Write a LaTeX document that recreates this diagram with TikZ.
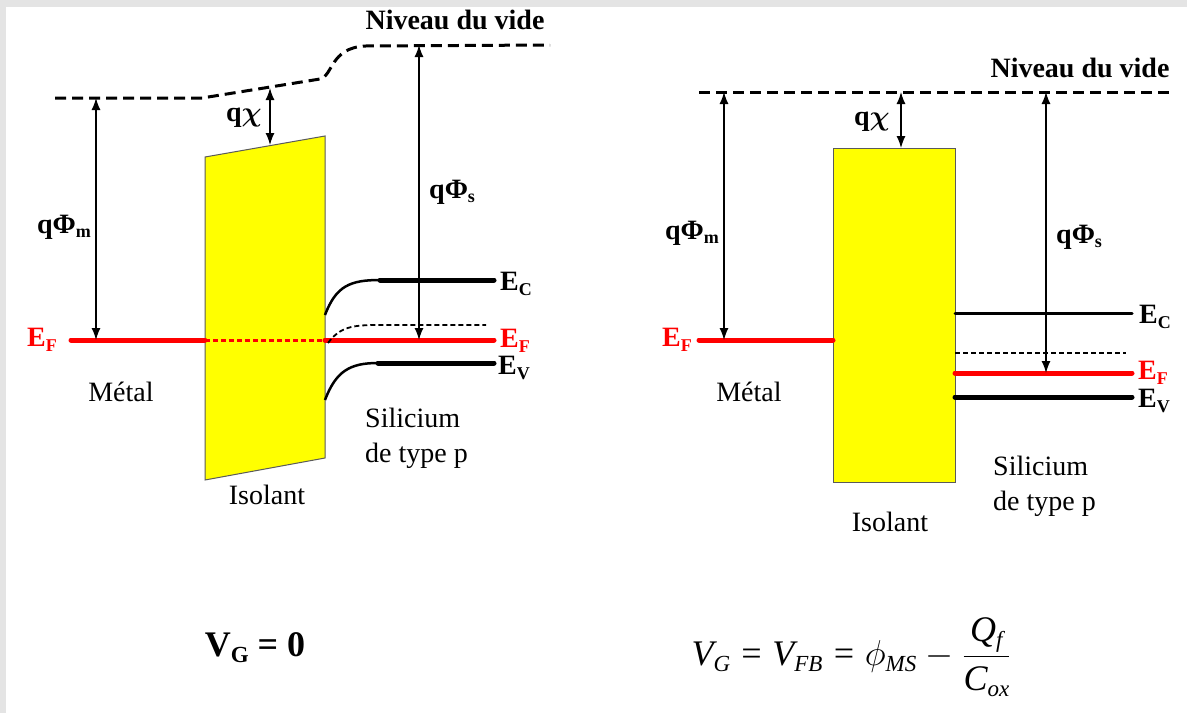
\documentclass[tikz,border=0pt]{standalone}
\usepackage{fix-cm}
\usepackage{amsmath}
\usepackage{fontspec}
\setmainfont{Liberation Serif}
\usepackage{tikz}
\usetikzlibrary{arrows.meta,positioning,calc}
\definecolor{Oxide}{HTML}{FFFF00}
\definecolor{Fermi}{HTML}{FF0000}
\definecolor{Frame}{HTML}{E4E4E4}
\definecolor{Edge}{HTML}{5A5A5A}
\newcommand{\lowidx}[1]{\raisebox{-0.35ex}{\fontsize{18}{18}\selectfont #1}}
\newcommand{\bigidx}[1]{\raisebox{-0.35ex}{\fontsize{23}{23}\selectfont #1}}

\begin{document}
\begin{tikzpicture}[x=1pt,y=-1pt,
  lab/.style={inner sep=0pt,font=\fontsize{28}{34}\selectfont},
  blab/.style={lab,font=\bfseries\fontsize{28}{34}\selectfont},
  vaclevel/.style={line width=3pt,dash pattern=on 11pt off 6pt},
  fermi/.style={Fermi,line width=5pt,line cap=round},
  band/.style={line width=5pt,line cap=round},
  bandbend/.style={line width=2.5pt},
  midlevel/.style={line width=1.8pt,dash pattern=on 5pt off 3pt},
  oxide/.style={fill=Oxide,draw=Edge,line width=1pt},
  dimarrow/.style={{Latex[length=12pt,width=9pt]}-{Latex[length=12pt,width=9pt]},line width=1.3pt}]
  \fill[Frame] (0,0) rectangle (1187,713);
  \fill[white] (6,7) rectangle (1187,713);
  \useasboundingbox (0,0) rectangle (1187,713);

  \draw[oxide] (205,157) -- (325,136) -- (325,458) -- (205,480) -- cycle;
  \draw[vaclevel] (55,98) -- (202,98) -- (320,79) .. controls (333,76) and (330,48) .. (365,46) -- (550,45);
  \node[blab] (vacL) at (455,20) {Niveau du vide};
  \draw[fermi] (71,340) -- (205,340);
  \draw[Fermi,line width=3pt,dash pattern=on 5pt off 3pt] (205,340) -- (325,340);
  \draw[fermi] (325,340) -- (494,340);
  \draw[bandbend] (325,315) .. controls (336,286) and (350,280) .. (380,280);
  \draw[band] (380,280) -- (494,280);
  \draw[midlevel] (328,343) .. controls (340,327) and (352,325) .. (378,325) -- (486,325);
  \draw[bandbend] (325,400) .. controls (336,371) and (350,363) .. (378,363);
  \draw[band] (378,363) -- (494,363);
  \coordinate (mTopL) at (96,98);
  \coordinate (mBotL) at (96,340);
  \coordinate (xTopL) at (270,88);
  \coordinate (xBotL) at (270,145);
  \coordinate (sTopL) at (419,45);
  \coordinate (sBotL) at (419,340);
  \draw[dimarrow] (mTopL) -- (mBotL);
  \draw[dimarrow] (xTopL) -- (xBotL);
  \draw[dimarrow] (sTopL) -- (sBotL);
  \node[blab,anchor=east] (phimL) at (91,227) {qΦ\lowidx{m}};
  \node[blab,anchor=east] (chiL) at (262,118) {q$\boldsymbol{\chi}$};
  \node[blab,anchor=west] (phisL) at (429,192) {qΦ\lowidx{s}};
  \node[blab,anchor=west] (ecL) at (500,284) {E\lowidx{C}};
  \node[blab,anchor=west,text=Fermi] (efRL) at (500,341) {E\lowidx{F}};
  \node[blab,anchor=east,text=Fermi] (efLL) at (57,340) {E\lowidx{F}};
  \node[blab,anchor=west] (evL) at (498,368) {E\lowidx{V}};
  \node[lab] (metL) at (121,392) {Métal};
  \node[lab] (isoL) at (267,495) {Isolant};
  \node[lab,anchor=north west,align=left,font=\fontsize{28}{35}\selectfont] (siL) at (365,408) {Silicium\\de type p};
  \node[blab,font=\bfseries\fontsize{36}{40}\selectfont] (vgL) at (255,648) {V\bigidx{G} = 0};

  \draw[oxide] (833,148) rectangle (955,482);
  \draw[vaclevel] (699,92) -- (1175,92);
  \node[blab] (vacR) at (1080,68) {Niveau du vide};
  \draw[fermi] (699,340) -- (833,340);
  \draw[line width=3pt,line cap=round] (955,313) -- (1132,313);
  \draw[midlevel] (955,353) -- (1126,353);
  \draw[fermi] (955,373) -- (1132,373);
  \draw[band] (955,397) -- (1132,397);
  \coordinate (mTopR) at (724,92);
  \coordinate (mBotR) at (724,340);
  \coordinate (xTopR) at (901,92);
  \coordinate (xBotR) at (901,148);
  \coordinate (sTopR) at (1046,92);
  \coordinate (sBotR) at (1046,373);
  \draw[dimarrow] (mTopR) -- (mBotR);
  \draw[dimarrow] (xTopR) -- (xBotR);
  \draw[dimarrow] (sTopR) -- (sBotR);
  \node[blab,anchor=east] (phimR) at (719,233) {qΦ\lowidx{m}};
  \node[blab,anchor=east] (chiR) at (890,122) {q$\boldsymbol{\chi}$};
  \node[blab,anchor=west] (phisR) at (1056,237) {qΦ\lowidx{s}};
  \node[blab,anchor=west] (ecR) at (1139,317) {E\lowidx{C}};
  \node[blab,anchor=east,text=Fermi] (efLR) at (692,340) {E\lowidx{F}};
  \node[blab,anchor=west,text=Fermi] (efRR) at (1138,373) {E\lowidx{F}};
  \node[blab,anchor=west] (evR) at (1138,401) {E\lowidx{V}};
  \node[lab] (metR) at (749,392) {Métal};
  \node[lab] (isoR) at (890,522) {Isolant};
  \node[lab,anchor=north west,align=left,font=\fontsize{28}{35}\selectfont] (siR) at (993,456) {Silicium\\de type p};
  \node[lab,font=\itshape\fontsize{36}{40}\selectfont] (vgR) at (851,657)
    {V\bigidx{G} = V\bigidx{FB} = $\phi$\bigidx{MS} $-$
    $\dfrac{\text{\itshape Q\bigidx{f}}}{\text{\itshape C\bigidx{ox}}}$};
\end{tikzpicture}
\end{document}
